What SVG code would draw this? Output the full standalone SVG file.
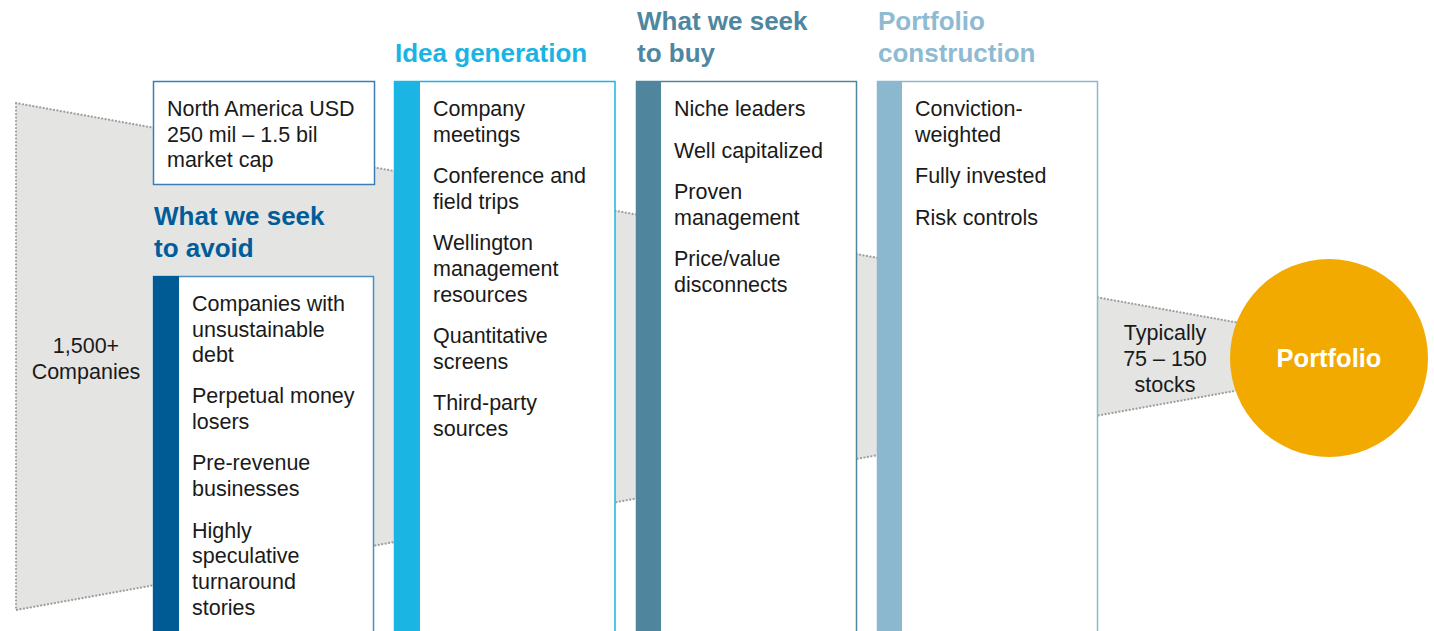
<svg xmlns="http://www.w3.org/2000/svg" width="1434" height="631" viewBox="0 0 1434 631">
<style>
.t{font-family:"Liberation Sans",Arial,sans-serif;font-size:21.5px;fill:#1a1a1a}
.h{font-family:"Liberation Sans",Arial,sans-serif;font-size:26px;font-weight:bold}
.box{fill:#fff;stroke-width:1.5}
.funnel{fill:#e4e4e3;stroke:#a0a0a0;stroke-width:2.2;stroke-dasharray:0.1 3.4;stroke-linecap:round}
</style>
<rect width="1434" height="631" fill="#fff"/>
<g id="funnel">
<polygon class="funnel" points="16,103 1329,339 1329,374 16,610"/>
</g>
<g id="universe">
<text class="t" text-anchor="middle" x="86" y="353">1,500+</text>
<text class="t" text-anchor="middle" x="86" y="379">Companies</text>
</g>
<g id="market-cap">
<rect class="box" x="153.5" y="81.5" width="221" height="103" stroke="#3b7db8"/>
<text class="t" x="167" y="116">North America USD</text>
<text class="t" x="167" y="142">250 mil – 1.5 bil</text>
<text class="t" x="167" y="167">market cap</text>
</g>
<g id="avoid">
<text class="h" x="154" y="225" fill="#005d9a">What we seek</text>
<text class="h" x="154" y="257" fill="#005d9a">to avoid</text>
<rect class="box" x="153.5" y="276.5" width="220" height="360" stroke="#4a8fc4"/>
<rect x="153" y="276" width="26" height="355" fill="#005a94"/>
<text class="t" x="192" y="311">Companies with</text>
<text class="t" x="192" y="337">unsustainable</text>
<text class="t" x="192" y="362">debt</text>
<text class="t" x="192" y="403">Perpetual money</text>
<text class="t" x="192" y="429">losers</text>
<text class="t" x="192" y="470">Pre-revenue</text>
<text class="t" x="192" y="496">businesses</text>
<text class="t" x="192" y="538">Highly</text>
<text class="t" x="192" y="563">speculative</text>
<text class="t" x="192" y="589">turnaround</text>
<text class="t" x="192" y="615">stories</text>
</g>
<g id="idea-generation">
<text class="h" x="395" y="62" fill="#1ab4e4">Idea generation</text>
<rect class="box" x="394.5" y="81.5" width="220.5" height="560" stroke="#1bb5e3"/>
<rect x="394" y="81" width="26" height="550" fill="#1bb5e3"/>
<text class="t" x="433" y="116">Company</text>
<text class="t" x="433" y="142">meetings</text>
<text class="t" x="433" y="183">Conference and</text>
<text class="t" x="433" y="209">field trips</text>
<text class="t" x="433" y="250">Wellington</text>
<text class="t" x="433" y="276">management</text>
<text class="t" x="433" y="302">resources</text>
<text class="t" x="433" y="343">Quantitative</text>
<text class="t" x="433" y="369">screens</text>
<text class="t" x="433" y="410">Third-party</text>
<text class="t" x="433" y="436">sources</text>
</g>
<g id="seek-to-buy">
<text class="h" x="637" y="30" fill="#4e879f">What we seek</text>
<text class="h" x="637" y="62" fill="#4e879f">to buy</text>
<rect class="box" x="636.5" y="81.5" width="220" height="560" stroke="#4f869e"/>
<rect x="636" y="81" width="25" height="550" fill="#4f869e"/>
<text class="t" x="674" y="116">Niche leaders</text>
<text class="t" x="674" y="158">Well capitalized</text>
<text class="t" x="674" y="199">Proven</text>
<text class="t" x="674" y="225">management</text>
<text class="t" x="674" y="266">Price/value</text>
<text class="t" x="674" y="292">disconnects</text>
</g>
<g id="portfolio-construction">
<text class="h" x="878" y="30" fill="#8ebad2">Portfolio</text>
<text class="h" x="878" y="62" fill="#8ebad2">construction</text>
<rect class="box" x="877.5" y="81.5" width="220" height="560" stroke="#8cb8cf"/>
<rect x="877" y="81" width="25" height="550" fill="#8cb8cf"/>
<text class="t" x="915" y="116">Conviction-</text>
<text class="t" x="915" y="142">weighted</text>
<text class="t" x="915" y="183">Fully invested</text>
<text class="t" x="915" y="225">Risk controls</text>
</g>
<g id="holdings">
<text class="t" text-anchor="middle" x="1165" y="340">Typically</text>
<text class="t" text-anchor="middle" x="1165" y="366">75 – 150</text>
<text class="t" text-anchor="middle" x="1165" y="392">stocks</text>
</g>
<g id="portfolio">
<circle cx="1329" cy="358" r="99" fill="#f2a900"/>
<text x="1329" y="367" text-anchor="middle" font-family="Liberation Sans, Arial, sans-serif" font-size="25.5" font-weight="bold" fill="#fff">Portfolio</text>
</g>
</svg>
